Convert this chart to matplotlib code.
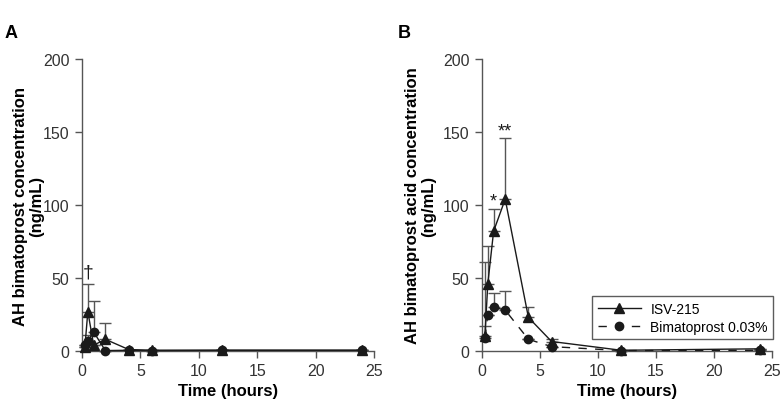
import matplotlib
matplotlib.use("Agg")
import matplotlib.pyplot as plt
import numpy as np

plt.rcParams['font.family'] = ['Liberation Sans', 'DejaVu Sans']

# Panel A data
a_time = [0.25, 0.5, 1, 2, 4, 6, 12, 24]
a_isv = [3, 27, 4, 8, 1, 0.5, 0.5, 0.5]
a_isv_top = [3, 46, 4, 19, 1, 0.5, 0.5, 0.5]
a_bim = [4, 7, 13, 0.3, 0.5, 0.3, 0.5, 0.5]
a_bim_top = [4, 11, 34, 0.3, 0.5, 0.3, 0.5, 0.5]

# Panel B data
b_time = [0.25, 0.5, 1, 2, 4, 6, 12, 24]
b_isv = [10, 46, 82, 104, 23, 6.5, 0.5, 1.5]
b_isv_top = [61, 72, 97, 146, 30, 8, 0.5, 1.5]
b_bim = [9, 25, 30, 28, 8, 3, 0.3, 0.5]
b_bim_top = [17, 25, 40, 41, 8, 3, 0.3, 0.5]

x_ticks = [0, 5, 10, 15, 20, 25]
y_ticks = [0, 50, 100, 150, 200]

fig = plt.figure(figsize=(7.8, 4.06), dpi=100)
axA = fig.add_axes([82/780, 54/406, 292/780, 292/406])
axB = fig.add_axes([482/780, 54/406, 290/780, 292/406])

lc = '#1a1a1a'
sc = '#555555'

def draw(ax, t, isv, isv_top, bim, bim_top, dashed):
    t = np.array(t)
    isv = np.array(isv); bim = np.array(bim)
    ax.errorbar(t, isv, yerr=[np.zeros_like(isv), np.array(isv_top) - isv],
                fmt='none', ecolor=sc, elinewidth=1, capsize=4, capthick=1, zorder=2, clip_on=False)
    ax.errorbar(t, bim, yerr=[np.zeros_like(bim), np.array(bim_top) - bim],
                fmt='none', ecolor=sc, elinewidth=1, capsize=4, capthick=1, zorder=2, clip_on=False)
    l1, = ax.plot(t, isv, '-', color=lc, lw=1, marker='^', ms=6.5, mfc=lc, mec=lc,
                  clip_on=False, zorder=3, label='ISV-215')
    l2, = ax.plot(t, bim, '--' if dashed else '-', color=lc, lw=1, marker='o', ms=6,
                  mfc=lc, mec=lc, clip_on=False, zorder=3, label='Bimatoprost 0.03%',
                  dashes=(6, 6) if dashed else (None, None))
    ax.set_xlim(0, 25)
    ax.set_ylim(0, 200)
    ax.set_xticks(x_ticks)
    ax.set_yticks(y_ticks)
    for s in ['top', 'right']:
        ax.spines[s].set_visible(False)
    for s in ['left', 'bottom']:
        ax.spines[s].set_color(sc)
        ax.spines[s].set_linewidth(1)
    ax.tick_params(direction='out', length=5, width=1, color=sc, labelsize=11.5,
                   labelcolor='#333333', pad=4)
    ax.set_xlabel('Time (hours)', fontsize=12, fontweight='bold', labelpad=3)
    return l1, l2

draw(axA, a_time, a_isv, a_isv_top, a_bim, a_bim_top, dashed=False)
l1, l2 = draw(axB, b_time, b_isv, b_isv_top, b_bim, b_bim_top, dashed=True)

axA.set_ylabel('AH bimatoprost concentration\n(ng/mL)', fontsize=12, fontweight='bold',
               linespacing=1.1)
axA.yaxis.set_label_coords(-0.13, 0.5)
axB.set_ylabel('AH bimatoprost acid concentration\n(ng/mL)', fontsize=12, fontweight='bold',
               linespacing=1.1)
axB.yaxis.set_label_coords(-0.159, 0.5)

axA.text(0.55, 54, '\u2020', ha='center', va='center', fontsize=14, color=lc)
axB.text(1, 103, '*', ha='center', va='center', fontsize=13, color=lc)
axB.text(2, 151, '**', ha='center', va='center', fontsize=13, color=lc)

leg = axB.legend(handles=[l1, l2], loc='lower right', bbox_to_anchor=(1.005, 0.04),
                 fontsize=10, frameon=True, fancybox=False, edgecolor='#333333',
                 handlelength=3.1, handletextpad=0.7, borderpad=0.4, labelspacing=0.3,
                 borderaxespad=0)
leg.get_frame().set_linewidth(1)

fig.text(5/780, 1 - 33/406, 'A', fontsize=13, fontweight='bold', va='center')
fig.text(398/780, 1 - 33/406, 'B', fontsize=13, fontweight='bold', va='center')

fig.savefig('out.png', dpi=100)
